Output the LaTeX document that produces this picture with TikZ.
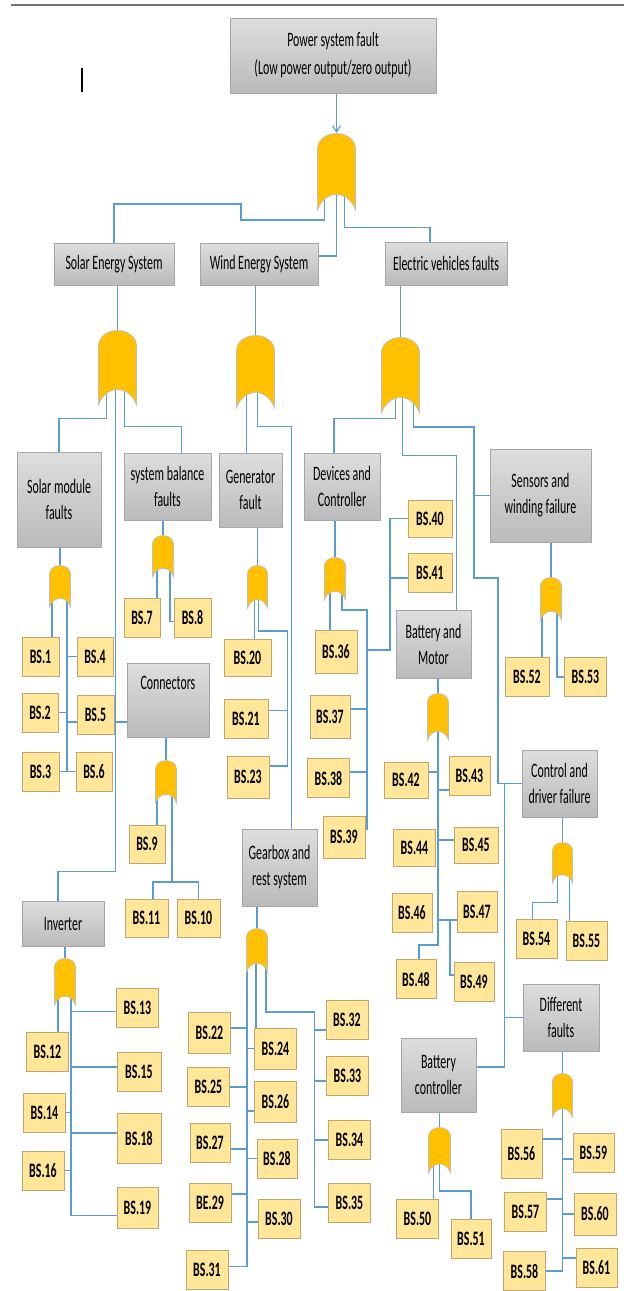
\documentclass[tikz,border=0pt]{standalone}
\usepackage{fontspec}
\setmainfont{Carlito}[FakeStretch=0.58]
\usetikzlibrary{arrows.meta,backgrounds}
\definecolor{linkblue}{RGB}{91,155,213}
\definecolor{gatefill}{RGB}{255,192,0}
\definecolor{bsfill}{RGB}{255,230,153}
\definecolor{bsline}{RGB}{191,165,110}

\begin{document}
\begin{tikzpicture}[x=1pt,y=-1pt,
                    every node/.style={font=\fontsize{20.5}{26}\selectfont,inner sep=2pt},
                    fault/.style={draw=black!35,line width=1pt,top color=black!13,
                                  bottom color=black!27,align=center},
                    bs/.style={draw=bsline,fill=bsfill,line width=1pt,minimum width=42,
                               minimum height=39,font=\fontsize{20.5}{26}\selectfont\bfseries},
                    orgate/.style 2 args={minimum width=#1,minimum height=#2,inner sep=0pt,
                      path picture={
                        \filldraw[fill=gatefill,draw=black!25,line width=0.7pt]
                          ([xshift=0.5pt]path picture bounding box.south west)
                          -- ([xshift=0.5pt,yshift=-0.4*#1]path picture bounding box.north west)
                          arc[start angle=180,end angle=0,x radius=0.5*#1pt-0.5pt,y radius=0.4*#1pt-0.5pt]
                          -- ([xshift=-0.5pt]path picture bounding box.south east)
                          .. controls ([xshift=-0.2*#1,yshift=0.53*#1]path picture bounding box.south east)
                          and ([xshift=0.2*#1,yshift=0.53*#1]path picture bounding box.south west) .. cycle;}},
                    link/.style={draw=linkblue,line width=1.6pt}]

  \useasboundingbox (0,0) rectangle (624,1291);
  \draw[black!55,line width=1.2pt] (11,5) -- (624,5);
  \draw[line width=1.5pt] (82,68) -- (82,92);

  % top event
  \node[fault,minimum width=206,minimum height=75] (top) at (333,55.5)
       {Power system fault\\[2pt](Low power output/zero output)};
  \node[orgate={39}{77}] (gTop) at (336.5,171.5) {};

  % systems
  \node[fault,minimum width=120,minimum height=42] (sol) at (114,264) {Solar Energy System};
  \node[fault,minimum width=118,minimum height=42] (wind) at (259,264) {Wind Energy System};
  \node[fault,minimum width=122,minimum height=43] (ev) at (446,263.5) {Electric vehicles faults};
  \node[orgate={39}{75}] (gSol) at (117.5,367.5) {};
  \node[orgate={39}{73}] (gWind) at (255.5,371.5) {};
  \node[orgate={39}{76}] (gEV) at (400.5,375) {};

  % sub-systems
  \node[fault,minimum width=84,minimum height=95] (smf) at (59,499.5) {Solar module\\faults};
  \node[fault,minimum width=87,minimum height=67] (sbf) at (167.5,486.5) {system balance\\faults};
  \node[fault,minimum width=63,minimum height=74] (gen) at (250.5,490) {Generator\\fault};
  \node[fault,minimum width=76,minimum height=67] (dev) at (342,486.5) {Devices and\\Controller};
  \node[fault,minimum width=101,minimum height=93] (sens) at (540.5,495.5) {Sensors and\\winding failure};
  \node[fault,minimum width=75,minimum height=68] (bm) at (433.5,644) {Battery and\\Motor};
  \node[fault,minimum width=82,minimum height=74] (conn) at (168,700) {Connectors\\\strut};
  \node[fault,minimum width=75,minimum height=77] (gear) at (279.5,867.5) {Gearbox and\\rest system};
  \node[fault,minimum width=82,minimum height=45] (inv) at (63,923.5) {Inverter};
  \node[fault,minimum width=75,minimum height=67] (ctrl) at (559.5,783.5) {Control and\\driver failure};
  \node[fault,minimum width=76,minimum height=67] (diff) at (561,1017.5) {Different\\faults};
  \node[fault,minimum width=75,minimum height=74] (bc) at (438.5,1075) {Battery\\controller};

  % gates of the sub-systems
  \node[orgate={22}{42}] (gSmf) at (60,586) {};
  \node[orgate={22}{42}] (gSbf) at (163,556) {};
  \node[orgate={21}{43}] (gGen) at (257.5,586.5) {};
  \node[orgate={22}{43}] (gDev) at (335,578.5) {};
  \node[orgate={22}{43}] (gSens) at (551,598.5) {};
  \node[orgate={22}{43}] (gConn) at (166,781.5) {};
  \node[orgate={22}{47}] (gBm) at (438,716.5) {};
  \node[orgate={21}{41}] (gCtrl) at (562.5,862.5) {};
  \node[orgate={22}{47}] (gInv) at (65,981.5) {};
  \node[orgate={22}{44}] (gGear) at (257,950) {};
  \node[orgate={23}{46}] (gBc) at (439.5,1150) {};
  \node[orgate={21}{44}] (gDiff) at (562.5,1095) {};

  % basic events
  \node[bs,minimum width=37] (b1) at (40.5,656.5) {BS.1};
  \node[bs,minimum width=36] (b4) at (95,656.5) {BS.4};
  \node[bs,minimum width=36] (b2) at (40,712.5) {BS.2};
  \node[bs,minimum width=37] (b5) at (95.5,715) {BS.5};
  \node[bs,minimum width=37] (b3) at (40.5,771.5) {BS.3};
  \node[bs,minimum width=36] (b6) at (94,771.5) {BS.6};
  \node[bs,minimum width=36] (b7) at (142,617.5) {BS.7};
  \node[bs,minimum width=37] (b8) at (192.5,617.5) {BS.8};
  \node[bs,minimum width=47,minimum height=37] (b20) at (247.5,657.5) {BS.20};
  \node[bs,minimum width=44] (b21) at (246,718.5) {BS.21};
  \node[bs,minimum height=42] (b23) at (248,777) {BS.23};
  \node[bs,minimum width=36,minimum height=38] (b9) at (147,844) {BS.9};
  \node[bs,minimum width=43,minimum height=38] (b11) at (146.5,918) {BS.11};
  \node[bs,minimum width=43,minimum height=38] (b10) at (198.5,918) {BS.10};
  \node[bs] (b12) at (47.5,1052) {BS.12};
  \node[bs] (b13) at (137.5,1007.5) {BS.13};
  \node[bs,minimum width=44] (b15) at (139,1072) {BS.15};
  \node[bs] (b14) at (44.5,1112.5) {BS.14};
  \node[bs,minimum width=44,minimum height=50] (b18) at (139,1138) {BS.18};
  \node[bs] (b16) at (43,1170.5) {BS.16};
  \node[bs,minimum width=41,minimum height=41] (b19) at (137.5,1207.5) {BS.19};
  \node[bs,minimum height=41] (b22) at (209.5,1032.5) {BS.22};
  \node[bs,minimum height=41] (b24) at (275.5,1048.5) {BS.24};
  \node[bs] (b25) at (208.5,1087) {BS.25};
  \node[bs,minimum height=41] (b26) at (275.5,1101.5) {BS.26};
  \node[bs,minimum width=40] (b27) at (210,1142.5) {BS.27};
  \node[bs,minimum width=40] (b28) at (277,1158.5) {BS.28};
  \node[bs] (b29) at (210,1203) {BE.29};
  \node[bs] (b30) at (279,1219) {BS.30};
  \node[bs] (b31) at (207,1269.5) {BS.31};
  \node[bs] (b32) at (347,1019.5) {BS.32};
  \node[bs] (b33) at (347.5,1076) {BS.33};
  \node[bs] (b34) at (349.5,1140) {BS.34};
  \node[bs] (b35) at (349.5,1203) {BS.35};
  \node[bs,minimum height=43] (b36) at (336,651.5) {BS.36};
  \node[bs,minimum width=40,minimum height=43] (b37) at (330,716.5) {BS.37};
  \node[bs] (b38) at (328.5,778) {BS.38};
  \node[bs,minimum height=42] (b39) at (344,837) {BS.39};
  \node[bs,minimum width=44,minimum height=37] (b40) at (430,518.5) {BS.40};
  \node[bs,minimum width=44] (b41) at (430,573) {BS.41};
  \node[bs,minimum width=44,minimum height=36] (b42) at (406,780) {BS.42};
  \node[bs,minimum width=41] (b43) at (469.5,775.5) {BS.43};
  \node[bs,minimum height=37] (b44) at (414.5,847.5) {BS.44};
  \node[bs,minimum width=44,minimum height=36] (b45) at (476,845) {BS.45};
  \node[bs,minimum width=40] (b46) at (412,912.5) {BS.46};
  \node[bs,minimum width=40,minimum height=41] (b47) at (477,911.5) {BS.47};
  \node[bs,minimum width=40] (b48) at (416,979) {BS.48};
  \node[bs,minimum width=40] (b49) at (474,981.5) {BS.49};
  \node[bs] (b50) at (417.5,1218.5) {BS.50};
  \node[bs,minimum width=40] (b51) at (471,1239) {BS.51};
  \node[bs,minimum width=44] (b52) at (527,677) {BS.52};
  \node[bs] (b53) at (585.5,677) {BS.53};
  \node[bs,minimum width=41] (b54) at (536.5,938.5) {BS.54};
  \node[bs,minimum width=41] (b55) at (586.5,941) {BS.55};
  \node[bs,minimum width=41,minimum height=49] (b56) at (521.5,1153.5) {BS.56};
  \node[bs,minimum width=41] (b59) at (593.5,1153) {BS.59};
  \node[bs] (b57) at (525.5,1212) {BS.57};
  \node[bs,minimum height=42] (b60) at (595,1214) {BS.60};
  \node[bs] (b58) at (524.5,1271) {BS.58};
  \node[bs,minimum width=41] (b61) at (596.5,1268) {BS.61};

  \draw[link,line width=1.2pt,-{Straight Barb[length=6pt,width=8pt]}] (top.south -| gTop.north) -- (gTop.north);

  \begin{scope}[on background layer]
    \fill[white] (0,0) rectangle (624,1291);
  \begin{scope}[link]

    % top gate
    \draw ([xshift=-12]gTop.center) |- (241,220) -- (241,204) -| (sol.north);
    \draw (gTop.center) |- ([yshift=8]wind.east);
    \draw ([xshift=8]gTop.center) |- ([xshift=-16,yshift=14]ev.north) -- ([xshift=-16]ev.north);

    % boxes into their gates
    \draw (gSol.north |- sol.south) -- (gSol.north);
    \draw (gWind.north |- wind.south) -- (gWind.north);
    \draw (gEV.north |- ev.south) -- (gEV.north);
    \draw (gSmf.north |- smf.south) -- (gSmf.north);
    \draw (gSbf.north |- sbf.south) -- (gSbf.north);
    \draw (gGen.north |- gen.south) -- (gGen.north);
    \draw (gDev.north |- dev.south) -- (gDev.north);
    \draw (gSens.north |- sens.south) -- (gSens.north);
    \draw (gConn.north |- conn.south) -- (gConn.north);
    \draw (gBm.north |- bm.south) -- (gBm.north);
    \draw (gCtrl.north |- ctrl.south) -- (gCtrl.north);
    \draw (gInv.north |- inv.south) -- (gInv.north);
    \draw (gGear.north |- gear.south) -- (gGear.north);
    \draw (gBc.north |- bc.south) -- (gBc.north);
    \draw (gDiff.north |- diff.south) -- (gDiff.north);

    % solar
    \coordinate (tSol) at ([xshift=-2]gSol.center);
    \draw ([xshift=-11]gSol.center) |- ([yshift=33]smf.north) -- (smf.north);
    \draw (tSol) |- ([xshift=-5,yshift=29]inv.north) -- ([xshift=-5]inv.north);
    \draw ([yshift=-22]conn.west) -- ([yshift=-22]conn.west -| tSol);
    \draw ([xshift=7]gSol.center) |- ([xshift=14,yshift=26]sbf.north) -- ([xshift=14]sbf.north);

    % wind
    \draw ([xshift=-9]gWind.center) -- ([xshift=-9]gWind.center |- gen.north);
    \draw ([xshift=2]gWind.center) |- ([xshift=12,yshift=402]gear.north) -- ([xshift=12]gear.north);

    % electric vehicles
    \coordinate (rEV) at (474,427);
    \coordinate (cEV) at ([xshift=-17]ctrl.west);
    \draw ([xshift=-5]gEV.center) |- ([xshift=-8,yshift=34]dev.north) -- ([xshift=-8]dev.north);
    \draw ([xshift=2]gEV.center) |- ([xshift=23,yshift=154]bm.north) -- ([xshift=23]bm.north);
    \draw ([xshift=13]gEV.center) |- (rEV) |- (498,578) |- (ctrl.west);
    \draw (sens.west) -- (sens.west -| rEV);
    \draw (cEV) |- ([yshift=8]bc.east);
    \draw (diff.west) -- (diff.west -| cEV);

    % solar module faults
    \coordinate (tSmf) at ([xshift=7]gSmf.center);
    \draw ([xshift=-8]gSmf.center) -- ([xshift=-8]gSmf.center |- b1.north);
    \draw (tSmf) |- (b3.east);
    \draw (b4.west) -- (b4.west -| tSmf);
    \draw (b2.east) -- (b2.east -| tSmf);
    \draw ([yshift=-7]b5.west) -- ([yshift=-7]b5.west -| tSmf);
    \draw (b6.west) -- (b6.west -| tSmf);

    % system balance
    \draw ([xshift=-6]gSbf.center) -- ([xshift=-6]gSbf.center |- b7.north);
    \draw ([xshift=7]gSbf.center) |- ([yshift=-4]b8.west);

    % generator
    \coordinate (tGen) at ([xshift=18]b23.east);
    \draw ([xshift=-3]gGen.center) -- ([xshift=-3]gGen.center |- b20.north);
    \draw ([xshift=1]gGen.center) |- ([yshift=146]tGen) |- ([yshift=11]b23.east);
    \draw ([yshift=8]b21.east) -- ([yshift=8]b21.east -| tGen);

    % connectors
    \coordinate (jConn) at ([xshift=6,yshift=-100.5]gConn.center);
    \draw ([xshift=-9]gConn.center) -- ([xshift=-9]gConn.center |- b9.north);
    \draw ([xshift=6]gConn.center) -- (jConn);
    \draw ([xshift=6.5]b11.north) |- (jConn) -| (b10.north);

    % inverter
    \coordinate (tInv) at ([xshift=6]gInv.center);
    \draw ([xshift=-7]gInv.center) -- ([xshift=-7]gInv.center |- b12.north);
    \draw (tInv) |- ([yshift=-8]b19.west);
    \draw ([yshift=-4]b13.west) -- ([yshift=-4]b13.west -| tInv);
    \draw ([yshift=5]b15.west) -- ([yshift=5]b15.west -| tInv);
    \draw (b14.east) -- (b14.east -| tInv);
    \draw ([yshift=5]b18.west) -- ([yshift=5]b18.west -| tInv);
    \draw (b16.east) -- (b16.east -| tInv);

    % gearbox
    \coordinate (tGear) at ([xshift=-10]gGear.center);
    \coordinate (rGear) at ([xshift=-11,yshift=7.5]b32.west);
    \draw (tGear) |- ([yshift=3]b31.east);
    \draw ([xshift=-1]gGear.center) -- ([xshift=-1]gGear.center |- b24.north);
    \draw ([xshift=9]gGear.center) |- (rGear) |- ([yshift=-4]b35.west);
    \draw ([yshift=4.5]b22.east) -- ([yshift=4.5]b22.east -| tGear);
    \draw (b24.west) -- (b24.west -| tGear);
    \draw (b25.east) -- (b25.east -| tGear);
    \draw ([yshift=-9.5]b26.west) -- ([yshift=-9.5]b26.west -| tGear);
    \draw ([yshift=-6.5]b27.east) -- ([yshift=-6.5]b27.east -| tGear);
    \draw (b28.west) -- (b28.west -| tGear);
    \draw ([yshift=9]b29.east) -- ([yshift=9]b29.east -| tGear);
    \draw ([yshift=-3]b30.west) -- ([yshift=-3]b30.west -| tGear);
    \draw ([yshift=-10.5]b32.west) -- ([yshift=-10.5]b32.west -| rGear);
    \draw ([yshift=-5]b33.west) -- ([yshift=-5]b33.west -| rGear);
    \draw (b34.west) -- (b34.west -| rGear);

    % devices and controller
    \coordinate (tDev) at (367,610);
    \coordinate (kDev) at (390,650);
    \draw ([xshift=-5]gDev.center) -- ([xshift=-5]gDev.center |- b36.north);
    \draw ([xshift=7]gDev.center) |- (tDev) |- ([yshift=8]b39.east);
    \draw (b40.west) -| (kDev) -- (kDev -| tDev);
    \draw ([yshift=-5]b41.west) -- ([yshift=-5]b41.west -| kDev);
    \draw ([yshift=7.5]b37.east) -- ([yshift=7.5]b37.east -| tDev);
    \draw ([yshift=6]b38.east) -- ([yshift=6]b38.east -| tDev);

    % battery and motor
    \coordinate (kBm) at (450,920);
    \draw (gBm.center) |- ([xshift=3,yshift=14]b48.north) -- ([xshift=3]b48.north);
    \draw ([yshift=8]b42.east) -- ([yshift=8]b42.east -| gBm.center);
    \draw ([yshift=-14.5]b43.west) -- ([yshift=-14.5]b43.west -| gBm.center);
    \draw ([yshift=5]b45.west) -- ([yshift=5]b45.west -| gBm.center);
    \draw ([yshift=-8.5]b47.west) -- ([yshift=-8.5]b47.west -| gBm.center);
    \draw (kBm) |- ([yshift=6.5]b49.west);

    % sensors
    \draw ([xshift=-9]gSens.center) -- ([xshift=-9]gSens.center |- b52.north);
    \draw ([xshift=6]gSens.center) |- (b53.west);

    % control and driver
    \draw ([xshift=-5]gCtrl.center) |- ([xshift=-4,yshift=16]b54.north) -- ([xshift=-4]b54.north);
    \draw ([xshift=7]gCtrl.center) -- ([xshift=7]gCtrl.center |- b55.north);

    % battery controller
    \draw ([xshift=-6]gBc.center) -- ([xshift=-6]gBc.center |- b50.north);
    \draw (gBc.center) |- ([yshift=28]b51.north) -- (b51.north);

    % different faults
    \draw (gDiff.center) |- (b58.east);
    \draw ([yshift=14.5]b56.east) -- ([yshift=14.5]b56.east -| gDiff.center);
    \draw ([yshift=-6]b59.west) -- ([yshift=-6]b59.west -| gDiff.center);
    \draw ([yshift=13]b57.east) -- ([yshift=13]b57.east -| gDiff.center);
    \draw (b60.west) -- (b60.west -| gDiff.center);
    \draw ([yshift=10]b61.west) -- ([yshift=10]b61.west -| gDiff.center);
  \end{scope}
  \end{scope}
\end{tikzpicture}
\end{document}
